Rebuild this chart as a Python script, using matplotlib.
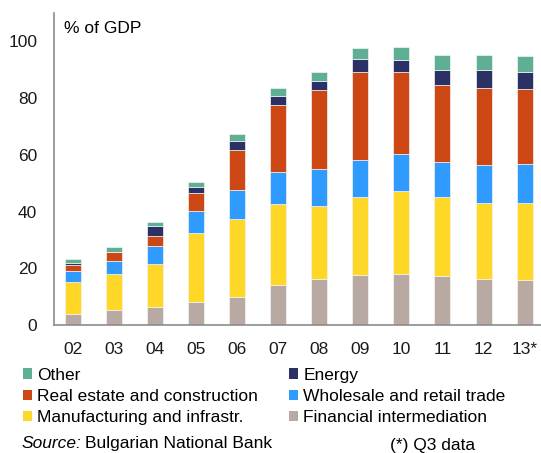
import numpy as np
import matplotlib
matplotlib.use("Agg")
import matplotlib.pyplot as plt
from matplotlib.patches import Patch

plt.rcParams['font.family'] = ['Liberation Sans', 'DejaVu Sans']

# loans by sector, % of GDP
years = ['02', '03', '04', '05', '06', '07', '08', '09', '10', '11', '12', '13*']
financial = [3.9, 5.3, 6.2, 8.0, 10.0, 14.0, 16.3, 17.7, 18.1, 17.4, 16.3, 16.0]
manufacturing = [11.3, 12.7, 15.3, 24.3, 27.3, 28.5, 25.8, 27.3, 29.1, 27.7, 26.9, 27.2]
wholesale = [3.9, 4.6, 6.4, 7.8, 10.2, 11.6, 13.0, 13.3, 13.0, 12.3, 13.1, 13.5]
real_estate = [2.0, 3.0, 3.4, 6.3, 14.1, 23.5, 27.9, 30.8, 28.9, 27.3, 27.4, 26.6]
energy = [0.8, 0.2, 3.6, 2.3, 3.3, 3.1, 3.0, 4.6, 4.2, 5.2, 6.1, 5.9]
other = [1.2, 1.6, 1.5, 1.8, 2.4, 2.9, 3.3, 4.0, 4.7, 5.2, 5.3, 5.6]

series = [
    ('Financial intermediation', financial, '#b8a9a3'),
    ('Manufacturing and infrastr.', manufacturing, '#ffd726'),
    ('Wholesale and retail trade', wholesale, '#2f9bff'),
    ('Real estate and construction', real_estate, '#cd4714'),
    ('Energy', energy, '#2c3165'),
    ('Other', other, '#5faf94'),
]

fs = 12.5

fig = plt.figure(figsize=(5.41, 4.53), dpi=100)
ax = fig.add_axes([0.0998, 0.2826, 0.9002, 0.6884])

x = np.arange(len(years))
bottom = np.zeros(len(years))
for name, vals, col in series:
    ax.bar(x, vals, 0.39, bottom=bottom, color=col, edgecolor='#f4f4f4', linewidth=0.5)
    bottom += np.array(vals)

ax.set_xlim(-0.46, 11.4)
ax.set_ylim(0, 110)
ax.set_yticks([0, 20, 40, 60, 80, 100])
ax.set_xticks(x)
ax.set_xticklabels(years)
ax.tick_params(length=0, labelsize=fs, colors='#1a1a1a')
ax.tick_params(axis='y', pad=12)
ax.tick_params(axis='x', pad=12)
for s in ['top', 'right']:
    ax.spines[s].set_visible(False)
for s in ['left', 'bottom']:
    ax.spines[s].set_color('#8c8c8c')
    ax.spines[s].set_linewidth(1.2)

ax.text(0.02, 0.975, '% of GDP', transform=ax.transAxes, fontsize=fs, va='top', ha='left')

# legend in two columns, filled column-wise
cols = dict((n, c) for n, _, c in series)
order = ['Other', 'Real estate and construction', 'Manufacturing and infrastr.',
         'Energy', 'Wholesale and retail trade', 'Financial intermediation']
handles = [Patch(facecolor=cols[n], edgecolor='none') for n in order]
fig.legend(handles, order, ncol=2, loc='upper left', bbox_to_anchor=(0.042, 0.188),
           frameon=False, fontsize=fs, handlelength=0.55, handleheight=0.55,
           handletextpad=0.3, columnspacing=1.75, labelspacing=0.36, borderpad=0,
           borderaxespad=0)

fig.text(0.04, 0.02, 'Source:', fontsize=fs, style='italic', va='center')
fig.text(0.158, 0.02, 'Bulgarian National Bank', fontsize=fs, va='center')
fig.text(0.72, 0.017, '(*) Q3 data', fontsize=fs, va='center')

fig.savefig('out.png', dpi=100)
